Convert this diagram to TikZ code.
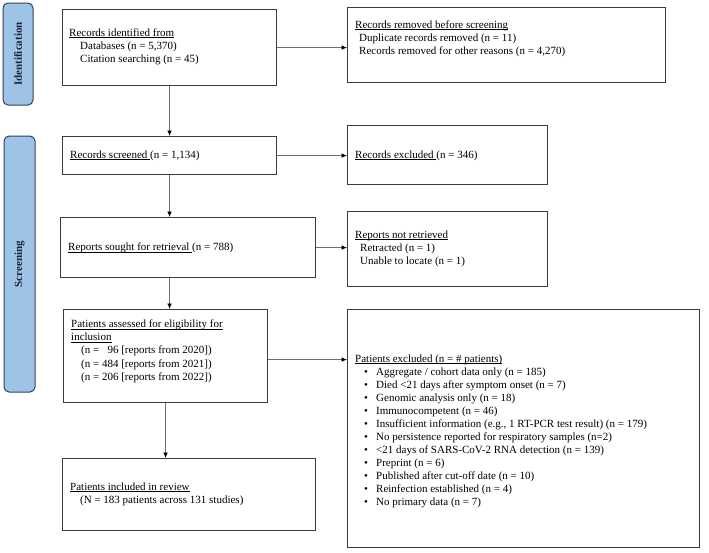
\documentclass[tikz,border=0pt]{standalone}
\usepackage{fontspec}
\setmainfont{Liberation Serif}
\usetikzlibrary{arrows.meta}
\definecolor{barfill}{RGB}{157,195,230}
\definecolor{barline}{RGB}{50,65,92}
\definecolor{bartext}{RGB}{25,35,55}
\definecolor{boxline}{RGB}{60,60,60}
\definecolor{arrline}{RGB}{110,110,110}
\newcommand{\ulx}[1]{\setbox0\hbox{#1}\rlap{\rule[-1.6pt]{\wd0}{0.55pt}}\box0}
\newcommand{\bul}{\hspace*{9pt}\makebox[12pt][l]{•}}
\begin{document}
\begin{tikzpicture}[x=1pt,y=-1pt,
  box/.style={draw=boxline,line width=1.1pt,inner sep=0pt,anchor=north west},
  bar/.style={draw=barline,fill=barfill,line width=1pt,rounded corners=5pt,rotate=90,
    text=bartext,font=\fontsize{11}{13}\selectfont\bfseries,inner sep=0pt},
  txt/.style={anchor=north west,inner sep=0pt,align=left,font=\fontsize{11}{13.2}\selectfont},
  arr/.style={draw=arrline,line width=0.6pt,-{Latex[length=5.5pt,width=4.5pt,color=black]}}]
\useasboundingbox[fill=white] (0,0) rectangle (709,552);
% side bars
\node[bar,minimum width=102pt,minimum height=30pt] (idbar) at (18,54) {Identification};
\node[bar,minimum width=256pt,minimum height=31pt] (scbar) at (19.5,264) {Screening};
% boxes
\node[box,minimum width=214pt,minimum height=76pt] (b1) at (62,9) {};
\node[box,minimum width=318pt,minimum height=75pt] (b2) at (347,7) {};
\node[box,minimum width=214pt,minimum height=38pt] (b3) at (62,136) {};
\node[box,minimum width=200pt,minimum height=59pt] (b4) at (347,125) {};
\node[box,minimum width=255pt,minimum height=60pt] (b5) at (60,217) {};
\node[box,minimum width=200pt,minimum height=75pt] (b6) at (347,211) {};
\node[box,minimum width=204pt,minimum height=93pt] (b7) at (63,309) {};
\node[box,minimum width=253pt,minimum height=72pt] (b8) at (62,458) {};
\node[box,minimum width=352pt,minimum height=238pt] (b9) at (347,309) {};
% texts
\node[txt] (t1) at (69,28.5) {\ulx{Records identified from}\\
  \hspace*{11pt}Databases (n = 5,370)\\
  \hspace*{11pt}Citation searching (n = 45)};
\node[txt] (t2) at (355,20.5) {\ulx{Records removed before screening}\\
  \hspace*{4pt}Duplicate records removed (n = 11)\\
  \hspace*{4pt}Records removed for other reasons (n = 4,270)};
\node[txt] (t3) at (70,150.5) {\ulx{Records screened\ }(n = 1,134)};
\node[txt] (t4) at (355,150.5) {\ulx{Records excluded\ }(n = 346)};
\node[txt] (t5) at (68,242.5) {\ulx{Reports sought for retrieval\ }(n = 788)};
\node[txt] (t6) at (355,230.5) {\ulx{Reports not retrieved}\\
  \hspace*{5pt}Retracted (n = 1)\\
  \hspace*{5pt}Unable to locate (n = 1)};
\node[txt] (t7) at (71,319.5) {\ulx{Patients assessed for eligibility for}\\
  \ulx{inclusion}\\
  \hspace*{10pt}(n = \hphantom{4}96 [reports from 2020])\\
  \hspace*{10pt}(n = 484 [reports from 2021])\\
  \hspace*{10pt}(n = 206 [reports from 2022])};
\node[txt] (t8) at (70,482.5) {\ulx{Patients included in review}\\
  \hspace*{10pt}(N = 183 patients across 131 studies)};
\node[txt,font=\fontsize{11}{13}\selectfont] (t9) at (355,354.5) {\ulx{Patients excluded (n = \# patients)}\\
  \bul Aggregate / cohort data only (n = 185)\\
  \bul Died <21 days after symptom onset (n = 7)\\
  \bul Genomic analysis only (n = 18)\\
  \bul Immunocompetent (n = 46)\\
  \bul Insufficient information (e.g., 1 RT-PCR test result) (n = 179)\\
  \bul No persistence reported for respiratory samples (n=2)\\
  \bul <21 days of SARS-CoV-2 RNA detection (n = 139)\\
  \bul Preprint (n = 6)\\
  \bul Published after cut-off date (n = 10)\\
  \bul Reinfection established (n = 4)\\
  \bul No primary data (n = 7)};
% connectors
\draw[arr] (b1.east) -- (b1.east -| b2.west);
\draw[arr] (b1.south) -- (b3.north);
\draw[arr] (b3.east) -- (b3.east -| b4.west);
\draw[arr] (b3.south) -- (b3.south |- b5.north);
\draw[arr] (b5.east) -- (b5.east -| b6.west);
\draw[arr] (b3.south |- b5.south) -- (b3.south |- b7.north);
\draw[arr] ([yshift=-3.5pt]b7.east) -- ([yshift=-3.5pt]b7.east -| b9.west);
\draw[arr] (b7.south) -- (b7.south |- b8.north);
\end{tikzpicture}
\end{document}
